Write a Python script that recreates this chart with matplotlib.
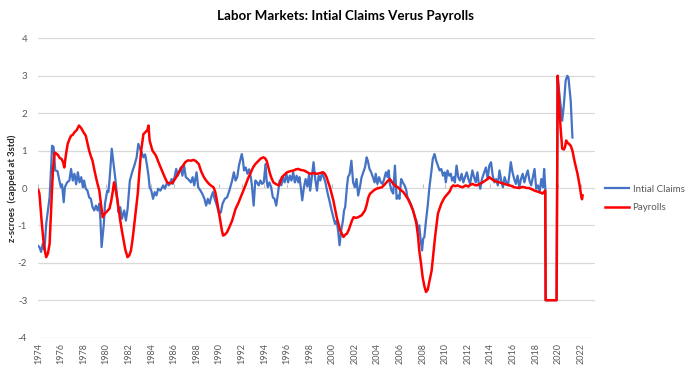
import matplotlib
matplotlib.use("Agg")
import matplotlib.pyplot as plt
import numpy as np

# ---------------- data ----------------
title = "Labor Markets: Intial Claims Verus Payrolls"
y_label = "z-scroes  (capped at 3std)"
series_names = ["Intial Claims", "Payrolls"]
tick_years = list(range(1974, 2023, 2))
y_ticks = [-4, -3, -2, -1, 0, 1, 2, 3, 4]

claims_t = [
    1974.0, 1974.1, 1974.25, 1974.4, 1974.55, 1974.7, 1974.85, 1975.0, 1975.15, 1975.22,
    1975.35, 1975.5, 1975.7, 1975.9, 1976.0, 1976.1, 1976.25, 1976.35, 1976.55, 1976.75,
    1976.9, 1977.05, 1977.2, 1977.35, 1977.5, 1977.65, 1977.8, 1977.95, 1978.05, 1978.2,
    1978.35, 1978.5, 1978.65, 1978.8, 1978.95, 1979.1, 1979.25, 1979.4, 1979.5, 1979.6,
    1979.8, 1979.9, 1980.1, 1980.2, 1980.3, 1980.5, 1980.7, 1980.8, 1980.95, 1981.1,
    1981.25, 1981.4, 1981.6, 1981.75, 1981.9, 1982.1, 1982.35, 1982.5, 1982.7, 1982.85,
    1983.0, 1983.15, 1983.3, 1983.45, 1983.6, 1983.75, 1983.85, 1984.0, 1984.15, 1984.3,
    1984.45, 1984.6, 1984.8, 1985.05, 1985.2, 1985.4, 1985.55, 1985.8, 1985.9, 1986.05,
    1986.2, 1986.35, 1986.6, 1986.75, 1986.9, 1987.05, 1987.25, 1987.5, 1987.65, 1987.8,
    1988.0, 1988.15, 1988.35, 1988.5, 1988.7, 1988.85, 1989.0, 1989.15, 1989.3, 1989.45,
    1989.6, 1989.8, 1990.0, 1990.15, 1990.3, 1990.5, 1990.7, 1990.9, 1991.15, 1991.3,
    1991.45, 1991.6, 1991.75, 1992.0, 1992.1, 1992.2, 1992.35, 1992.5, 1992.65, 1992.8,
    1992.9, 1993.05, 1993.2, 1993.35, 1993.5, 1993.65, 1993.8, 1993.95, 1994.1, 1994.2,
    1994.3, 1994.45, 1994.6, 1994.75, 1994.9, 1995.05, 1995.2, 1995.35, 1995.5, 1995.65,
    1995.8, 1995.95, 1996.1, 1996.25, 1996.4, 1996.55, 1996.7, 1996.85, 1997.0, 1997.1,
    1997.2, 1997.35, 1997.5, 1997.65, 1997.8, 1997.95, 1998.05, 1998.2, 1998.35, 1998.5,
    1998.65, 1998.8, 1998.95, 1999.1, 1999.25, 1999.4, 1999.6, 1999.75, 1999.95, 2000.1,
    2000.25, 2000.4, 2000.55, 2000.65, 2000.8, 2000.95, 2001.05, 2001.15, 2001.3, 2001.4,
    2001.55, 2001.7, 2001.85, 2002.0, 2002.15, 2002.3, 2002.45, 2002.6, 2002.75, 2002.9,
    2003.05, 2003.15, 2003.3, 2003.45, 2003.6, 2003.75, 2003.85, 2004.0, 2004.15, 2004.3,
    2004.45, 2004.6, 2004.75, 2004.9, 2005.0, 2005.1, 2005.25, 2005.4, 2005.55, 2005.7,
    2005.85, 2005.95, 2006.1, 2006.25, 2006.4, 2006.55, 2006.65, 2006.8, 2006.95, 2007.15,
    2007.3, 2007.45, 2007.6, 2007.7, 2007.8, 2007.95, 2008.05, 2008.15, 2008.3, 2008.45,
    2008.6, 2008.75, 2008.9, 2009.05, 2009.2, 2009.35, 2009.5, 2009.65, 2009.8, 2009.95,
    2010.05, 2010.2, 2010.35, 2010.5, 2010.6, 2010.75, 2010.85, 2011.0, 2011.15, 2011.3,
    2011.45, 2011.6, 2011.75, 2011.9, 2012.05, 2012.2, 2012.3, 2012.4, 2012.55, 2012.7,
    2012.85, 2012.95, 2013.1, 2013.25, 2013.4, 2013.6, 2013.75, 2013.9, 2014.05, 2014.2,
    2014.35, 2014.5, 2014.65, 2014.8, 2014.95, 2015.1, 2015.25, 2015.4, 2015.55, 2015.65,
    2015.8, 2015.95, 2016.1, 2016.25, 2016.4, 2016.55, 2016.7, 2016.85, 2017.0, 2017.15,
    2017.3, 2017.45, 2017.6, 2017.75, 2017.9, 2018.05, 2018.2, 2018.35, 2018.5, 2018.65,
    2018.75, 2018.85, 2018.88, 2019.85, 2019.93, 2020.1, 2020.35, 2020.5, 2020.65, 2020.8,
    2020.9, 2021.1, 2021.25,
]
claims_v = [
    -1.55, -1.58, -1.71, -1.49, -1.65, -0.96, -0.60, -0.25, 0.64, 1.13,
    1.10, 0.47, 0.45, 0.15, 0.02, 0.10, -0.38, 0.02, 0.15, 0.20,
    0.51, 0.20, 0.38, 0.10, 0.42, 0.15, 0.29, 0.02, 0.20, -0.02,
    -0.07, -0.25, -0.29, -0.51, -0.60, -0.47, -0.60, -0.42, -0.87, -1.58,
    -0.96, -0.42, -0.07, -0.11, 0.20, 1.05, 0.55, 0.29, -0.15, -0.65,
    -0.51, -0.82, -0.60, -0.87, -0.56, 0.20, 0.47, 0.60, 0.82, 1.18,
    1.05, 0.95, 0.82, 0.90, 0.64, 0.33, 0.02, -0.07, -0.29, -0.11,
    -0.20, -0.02, -0.07, 0.07, -0.02, 0.15, 0.07, 0.24, 0.11, 0.29,
    0.51, 0.33, 0.55, 0.33, 0.60, 0.29, 0.24, 0.15, 0.29, 0.07,
    0.42, 0.02, -0.07, -0.15, -0.29, -0.47, -0.29, -0.42, -0.24, -0.11,
    -0.29, -0.47, -0.69, -0.65, -0.42, -0.29, -0.25, -0.07, 0.20, 0.42,
    0.20, 0.29, 0.60, 0.91, 0.75, 0.47, 0.55, 0.38, 0.50, 0.29,
    0.07, -0.47, 0.20, 0.15, 0.07, 0.20, 0.11, 0.15, 0.64, 0.20,
    0.02, 0.15, 0.02, -0.25, -0.29, -0.47, -0.15, 0.20, 0.07, 0.29,
    0.15, 0.38, 0.15, 0.33, 0.20, 0.42, 0.15, 0.33, 0.15, 0.29,
    0.07, -0.33, 0.02, 0.24, 0.04, 0.36, -0.07, 0.29, 0.69, 0.24,
    -0.07, 0.33, 0.20, 0.42, 0.29, 0.15, -0.15, -0.33, -0.60, -0.78,
    -0.96, -0.87, -1.22, -1.53, -1.13, -0.87, -0.60, -0.51, 0.02, 0.29,
    0.38, 0.73, 0.15, 0.02, 0.24, -0.20, 0.02, 0.29, 0.42, 0.55,
    0.82, 0.73, 0.51, 0.42, 0.29, 0.15, 0.38, 0.11, 0.29, 0.15,
    0.11, 0.24, 0.42, 0.29, 0.47, 0.11, -0.07, -0.15, 0.60, -0.29,
    -0.20, -0.29, 0.24, 0.15, 0.07, -0.05, -0.24, -0.33, -0.42, -0.60,
    -0.78, -0.87, -1.13, -1.00, -1.31, -1.67, -1.36, -1.31, -0.87, -0.47,
    0.02, 0.38, 0.78, 0.91, 0.73, 0.60, 0.47, 0.51, 0.33, 0.42,
    0.15, 0.47, 0.33, 0.38, 0.20, 0.29, 0.15, 0.60, 0.29, 0.20,
    0.38, 0.15, 0.29, 0.42, 0.24, 0.11, 0.29, 0.47, 0.29, 0.15,
    0.42, 0.15, -0.02, 0.24, 0.38, 0.55, 0.24, 0.60, 0.69, 0.33,
    0.15, 0.24, 0.07, 0.47, 0.20, 0.02, 0.29, 0.15, 0.07, 0.29,
    0.69, 0.42, 0.24, 0.11, 0.33, 0.02, 0.24, 0.38, 0.15, 0.33,
    0.47, 0.20, 0.07, 0.29, 0.51, -0.02, 0.07, -0.11, 0.24, 0.02,
    0.51, 0.00, -3.00, -3.00, 3.00, 2.51, 1.80, 2.24, 2.87, 3.00,
    2.95, 2.33, 1.35,
]

payrolls_t = [
    1974.0, 1974.1, 1974.3, 1974.5, 1974.7, 1974.85, 1975.0, 1975.1, 1975.2, 1975.3,
    1975.45, 1975.6, 1975.75, 1975.9, 1976.05, 1976.2, 1976.3, 1976.45, 1976.6, 1976.75,
    1976.9, 1977.05, 1977.2, 1977.4, 1977.6, 1977.8, 1978.0, 1978.2, 1978.35, 1978.5,
    1978.65, 1978.8, 1978.95, 1979.1, 1979.25, 1979.4, 1979.55, 1979.7, 1979.85, 1980.0,
    1980.15, 1980.3, 1980.45, 1980.6, 1980.7, 1980.85, 1981.0, 1981.1, 1981.25, 1981.4,
    1981.55, 1981.7, 1981.9, 1982.05, 1982.2, 1982.35, 1982.5, 1982.65, 1982.8, 1982.95,
    1983.1, 1983.3, 1983.5, 1983.65, 1983.75, 1983.85, 1984.1, 1984.4, 1984.7, 1985.0,
    1985.2, 1985.4, 1985.65, 1985.9, 1986.2, 1986.4, 1986.6, 1986.8, 1987.0, 1987.25,
    1987.5, 1987.7, 1987.9, 1988.2, 1988.4, 1988.65, 1988.85, 1989.1, 1989.3, 1989.5,
    1989.65, 1989.8, 1989.95, 1990.1, 1990.25, 1990.35, 1990.5, 1990.7, 1990.9, 1991.15,
    1991.3, 1991.45, 1991.7, 1991.9, 1992.1, 1992.3, 1992.55, 1992.8, 1993.0, 1993.2,
    1993.45, 1993.65, 1993.9, 1994.05, 1994.2, 1994.35, 1994.5, 1994.65, 1994.8, 1995.05,
    1995.3, 1995.55, 1995.8, 1996.0, 1996.3, 1996.6, 1996.8, 1997.0, 1997.25, 1997.5,
    1997.8, 1998.05, 1998.35, 1998.65, 1998.95, 1999.2, 1999.35, 1999.5, 1999.65, 1999.8,
    1999.95, 2000.1, 2000.25, 2000.4, 2000.55, 2000.7, 2000.85, 2001.0, 2001.15, 2001.3,
    2001.45, 2001.6, 2001.75, 2001.9, 2002.1, 2002.3, 2002.6, 2002.9, 2003.05, 2003.2,
    2003.35, 2003.5, 2003.7, 2003.9, 2004.15, 2004.4, 2004.6, 2004.8, 2004.95, 2005.1,
    2005.25, 2005.4, 2005.6, 2005.8, 2006.05, 2006.3, 2006.5, 2006.7, 2006.9, 2007.15,
    2007.3, 2007.45, 2007.6, 2007.7, 2007.85, 2008.0, 2008.15, 2008.3, 2008.45, 2008.6,
    2008.8, 2008.95, 2009.1, 2009.25, 2009.35, 2009.5, 2009.65, 2009.8, 2009.95, 2010.15,
    2010.4, 2010.55, 2010.7, 2010.9, 2011.1, 2011.3, 2011.55, 2011.8, 2012.05, 2012.25,
    2012.4, 2012.6, 2012.8, 2013.05, 2013.3, 2013.55, 2013.75, 2013.9, 2014.1, 2014.3,
    2014.55, 2014.8, 2015.0, 2015.2, 2015.45, 2015.7, 2015.9, 2016.1, 2016.35, 2016.55,
    2016.8, 2017.0, 2017.2, 2017.4, 2017.65, 2017.9, 2018.1, 2018.3, 2018.5, 2018.6,
    2018.75, 2018.85, 2018.88, 2019.85, 2019.95, 2020.05, 2020.2, 2020.35, 2020.5, 2020.6,
    2020.7, 2020.85, 2020.95, 2021.1, 2021.25, 2021.45, 2021.7, 2021.9, 2022.05, 2022.1,
    2022.15,
]
payrolls_v = [
    -0.05, -0.15, -0.90, -1.55, -1.85, -1.75, -1.50, -0.80, -0.15, 0.50,
    0.95, 0.92, 0.88, 0.80, 0.78, 0.69, 0.55, 0.90, 1.18, 1.30,
    1.40, 1.42, 1.49, 1.55, 1.67, 1.60, 1.49, 1.40, 1.20, 1.00,
    0.85, 0.73, 0.50, 0.29, 0.10, -0.07, -0.45, -0.78, -0.70, -0.65,
    -0.60, -0.55, -0.35, -0.07, 0.15, -0.05, -0.33, -0.55, -0.87, -1.15,
    -1.40, -1.65, -1.85, -1.80, -1.67, -1.35, -0.96, -0.55, -0.15, 0.45,
    1.00, 1.44, 1.50, 1.55, 1.67, 1.27, 1.00, 0.87, 0.64, 0.42,
    0.28, 0.15, 0.12, 0.15, 0.29, 0.40, 0.51, 0.60, 0.69, 0.74,
    0.73, 0.75, 0.73, 0.64, 0.45, 0.29, 0.20, 0.11, 0.06, 0.02,
    -0.10, -0.33, -0.60, -0.87, -1.15, -1.27, -1.25, -1.18, -1.05, -0.87,
    -0.72, -0.56, -0.40, -0.25, -0.10, 0.05, 0.25, 0.42, 0.55, 0.64,
    0.72, 0.78, 0.82, 0.80, 0.73, 0.55, 0.38, 0.25, 0.15, 0.10,
    0.07, 0.29, 0.36, 0.42, 0.45, 0.47, 0.50, 0.51, 0.48, 0.47,
    0.42, 0.38, 0.40, 0.38, 0.40, 0.42, 0.38, 0.29, 0.15, 0.02,
    -0.15, -0.33, -0.55, -0.78, -0.95, -1.13, -1.22, -1.31, -1.25, -1.22,
    -1.13, -1.00, -0.87, -0.78, -0.80, -0.78, -0.73, -0.60, -0.45, -0.25,
    -0.15, -0.11, -0.06, -0.02, 0.00, 0.02, 0.08, 0.15, 0.20, 0.24,
    0.18, 0.11, 0.06, 0.02, -0.05, -0.11, -0.20, -0.29, -0.42, -0.60,
    -0.75, -0.96, -1.30, -1.67, -2.00, -2.38, -2.62, -2.78, -2.72, -2.50,
    -2.20, -1.75, -1.31, -0.95, -0.69, -0.55, -0.42, -0.33, -0.25, -0.18,
    -0.09, 0.02, 0.07, 0.05, 0.07, 0.04, 0.02, 0.07, 0.04, 0.09,
    0.11, 0.08, 0.07, 0.11, 0.15, 0.20, 0.24, 0.29, 0.24, 0.20,
    0.17, 0.15, 0.13, 0.11, 0.09, 0.07, 0.05, 0.02, 0.01, 0.00,
    0.03, 0.02, 0.00, 0.00, -0.03, -0.07, -0.09, -0.11, -0.13, -0.15,
    -0.10, -0.07, -3.00, -3.00, 3.00, 2.40, 1.62, 1.05, 1.03, 1.10,
    1.27, 1.20, 1.18, 1.13, 1.00, 0.70, 0.38, 0.05, -0.25, -0.30,
    -0.20,
]

# ---------------- styling ----------------
BLUE = "#4472C4"
RED = "#FF0000"
GRID = "#D9D9D9"
TEXT = "#595959"
FONT = ["Lato", "DejaVu Sans"]
plt.rcParams["font.family"] = FONT

fig = plt.figure(figsize=(6.91, 3.74), dpi=100)
ax = fig.add_axes([0.0554, 0.0973, 0.8057, 0.80])

l1, = ax.plot(claims_t, claims_v, color=BLUE, lw=1.6, solid_joinstyle="round", zorder=3)
l2, = ax.plot(payrolls_t, payrolls_v, color=RED, lw=1.8, solid_joinstyle="round", zorder=4)

ax.set_xlim(1974.0, 2023.25)
ax.set_ylim(-4, 4)
ax.set_yticks(y_ticks)
ax.set_yticklabels([str(v) for v in y_ticks])
ax.set_xticks(tick_years)
ax.set_xticklabels([str(y) for y in tick_years], rotation=90)
ax.tick_params(axis="y", length=0, pad=8, labelsize=7, labelcolor=TEXT)
ax.tick_params(axis="x", length=0, pad=4, labelsize=6.5, labelcolor=TEXT)
ax.grid(axis="y", color=GRID, lw=0.9, zorder=0)
ax.grid(axis="x", visible=False)
for s in ax.spines.values():
    s.set_visible(False)

# horizontal category axis crossing at zero with small tick marks
sec = ax.secondary_xaxis(0.5)
sec.set_xticks(tick_years)
sec.set_xticklabels([])
sec.tick_params(axis="x", length=3, width=0.8, color="#BFBFBF", direction="out")
sec.spines["bottom"].set_color("#BFBFBF")
sec.spines["bottom"].set_linewidth(0.9)
for k in ("top", "left", "right"):
    if k in sec.spines:
        sec.spines[k].set_visible(False)

fig.text(0.5, 0.958, title, ha="center", va="center", fontsize=9.6,
         fontweight="bold", color="#000000")
fig.text(0.018, 0.497, y_label, rotation=90, ha="center", va="center",
         fontsize=6.8, fontweight="bold", color="#262626")

fig.legend([l1, l2], series_names, loc="center left",
           bbox_to_anchor=(0.876, 0.469), frameon=False, fontsize=7,
           handlelength=2.4, handletextpad=0.4, labelspacing=1.0,
           borderpad=0, borderaxespad=0, labelcolor=TEXT)

fig.savefig("out.png", dpi=100)
